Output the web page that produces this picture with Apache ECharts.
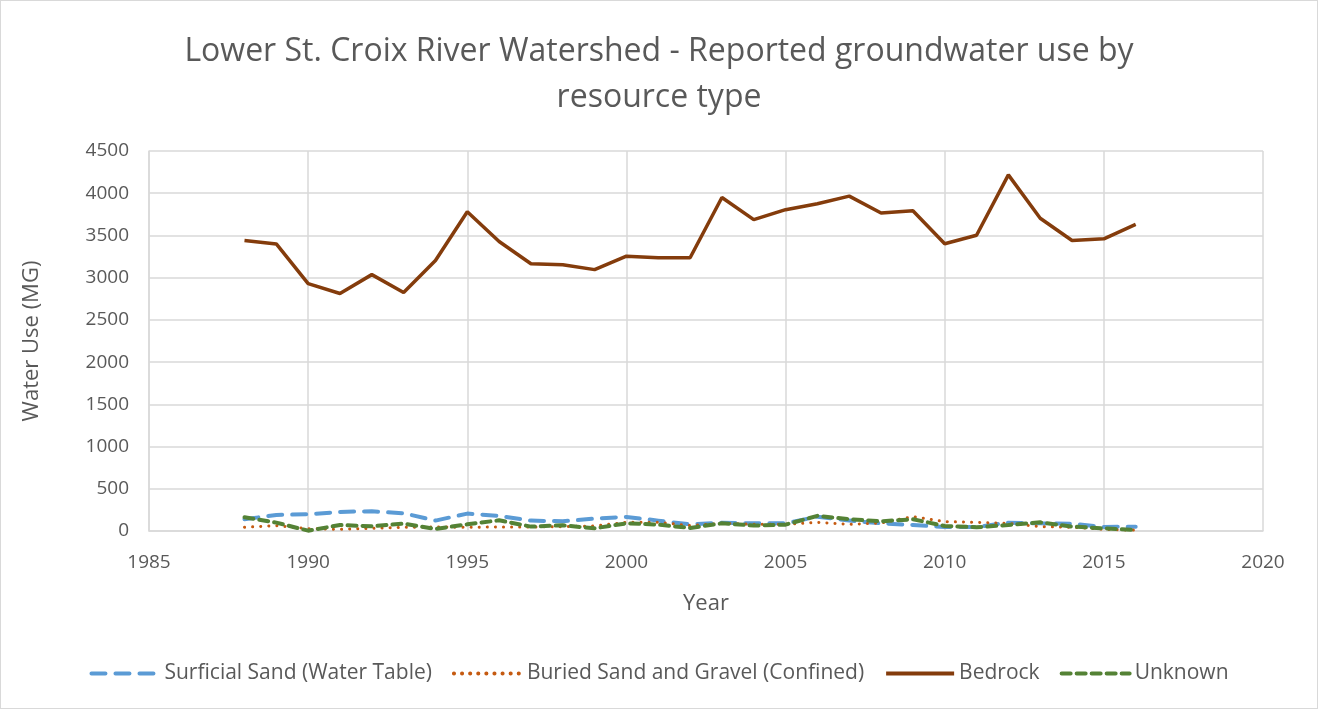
<!DOCTYPE html>
<html>
<head>
<meta charset="utf-8">
<script src="https://cdn.jsdelivr.net/npm/echarts@6/dist/echarts.min.js"></script>
<style>
html,body{margin:0;padding:0;background:#fff;}
#c{width:1318px;height:709px;box-sizing:border-box;border:1px solid #d9d9d9;}
</style>
</head>
<body>
<div id="c"></div>
<script>
const years = [1988,1989,1990,1991,1992,1993,1994,1995,1996,1997,1998,1999,2000,2001,2002,2003,2004,2005,2006,2007,2008,2009,2010,2011,2012,2013,2014,2015,2016];
const surficial = [139,190,198,226,234,210,123,206,179,123,115,147,167,123,79,99,91,91,170,123,91,71,48,48,99,91,87,48,50];
const buried = [44,64,28,20,32,44,48,44,48,48,52,60,103,103,64,91,79,79,103,79,95,171,111,103,91,52,44,20,10];
const bedrock = [3440,3400,2930,2812,3036,2824,3204,3781,3428,3165,3153,3095,3255,3235,3236,3950,3687,3805,3875,3966,3766,3793,3401,3502,4217,3703,3440,3460,3630];
const unknown = [163,99,4,71,56,87,24,79,127,52,67,32,91,75,36,91,64,75,179,139,115,139,60,44,71,103,52,32,10];
const seriesNames = ['Surficial Sand (Water Table)','Buried Sand and Gravel (Confined)','Bedrock','Unknown'];
const xTicks = {min:1985, max:2020, interval:5};
const yTicks = {min:0, max:4500, interval:500};

const pair = arr => years.map((y,i)=>[y,arr[i]]);
const font = '"Open Sans", "Liberation Sans", sans-serif';
const txt = '#595959';

const chart = echarts.init(document.getElementById('c'));
chart.setOption({
  animation:false,
  title:{
    text:'Lower St. Croix River Watershed - Reported groundwater use by\nresource type',
    left:'center', top:23,
    textStyle:{fontFamily:font,fontSize:32,fontWeight:'normal',color:txt,lineHeight:46}
  },
  grid:{left:148,right:54,top:150,bottom:177,containLabel:false},
  xAxis:{
    type:'value', min:xTicks.min, max:xTicks.max, interval:xTicks.interval,
    name:'Year', nameLocation:'middle', nameGap:62,
    nameTextStyle:{fontFamily:font,fontSize:22,color:txt},
    axisLine:{show:true,lineStyle:{color:'#d9d9d9',width:1.5}},
    axisTick:{show:false},
    axisLabel:{fontFamily:font,fontSize:19,color:txt,margin:22,formatter:v=>String(v)},
    splitLine:{show:true,lineStyle:{color:'#d9d9d9',width:1.5}}
  },
  yAxis:{
    type:'value', min:yTicks.min, max:yTicks.max, interval:yTicks.interval,
    name:'Water Use (MG)', nameLocation:'middle', nameGap:106,
    nameTextStyle:{fontFamily:font,fontSize:22,color:txt},
    axisLine:{show:true,lineStyle:{color:'#d9d9d9',width:1.5}},
    axisTick:{show:false},
    axisLabel:{fontFamily:font,fontSize:19,color:txt,margin:20,formatter:v=>String(v)},
    splitLine:{show:true,lineStyle:{color:'#d9d9d9',width:1.5}}
  },
  legend:{
    bottom:19, left:'center', itemWidth:68, itemHeight:14, itemGap:20,
    itemStyle:{opacity:0},
    lineStyle:{width:4},
    textStyle:{fontFamily:font,fontSize:21,color:txt},
    data:seriesNames
  },
  series:[
    {name:seriesNames[0],type:'line',symbol:'none',data:pair(surficial),z:2,
     lineStyle:{color:'#5b9bd5',width:4,type:[14,10],cap:'round'},itemStyle:{color:'#5b9bd5'}},
    {name:seriesNames[1],type:'line',symbol:'none',data:pair(buried),z:3,
     lineStyle:{color:'#c55a11',width:3,type:[0.1,8],cap:'round'},itemStyle:{color:'#c55a11'}},
    {name:seriesNames[2],type:'line',symbol:'none',data:pair(bedrock),z:4,
     lineStyle:{color:'#843c0c',width:3.5,type:'solid'},itemStyle:{color:'#843c0c'}},
    {name:seriesNames[3],type:'line',symbol:'none',data:pair(unknown),z:5,
     lineStyle:{color:'#548235',width:4,type:[9,6],cap:'round'},itemStyle:{color:'#548235'}}
  ]
});
</script>
</body>
</html>
